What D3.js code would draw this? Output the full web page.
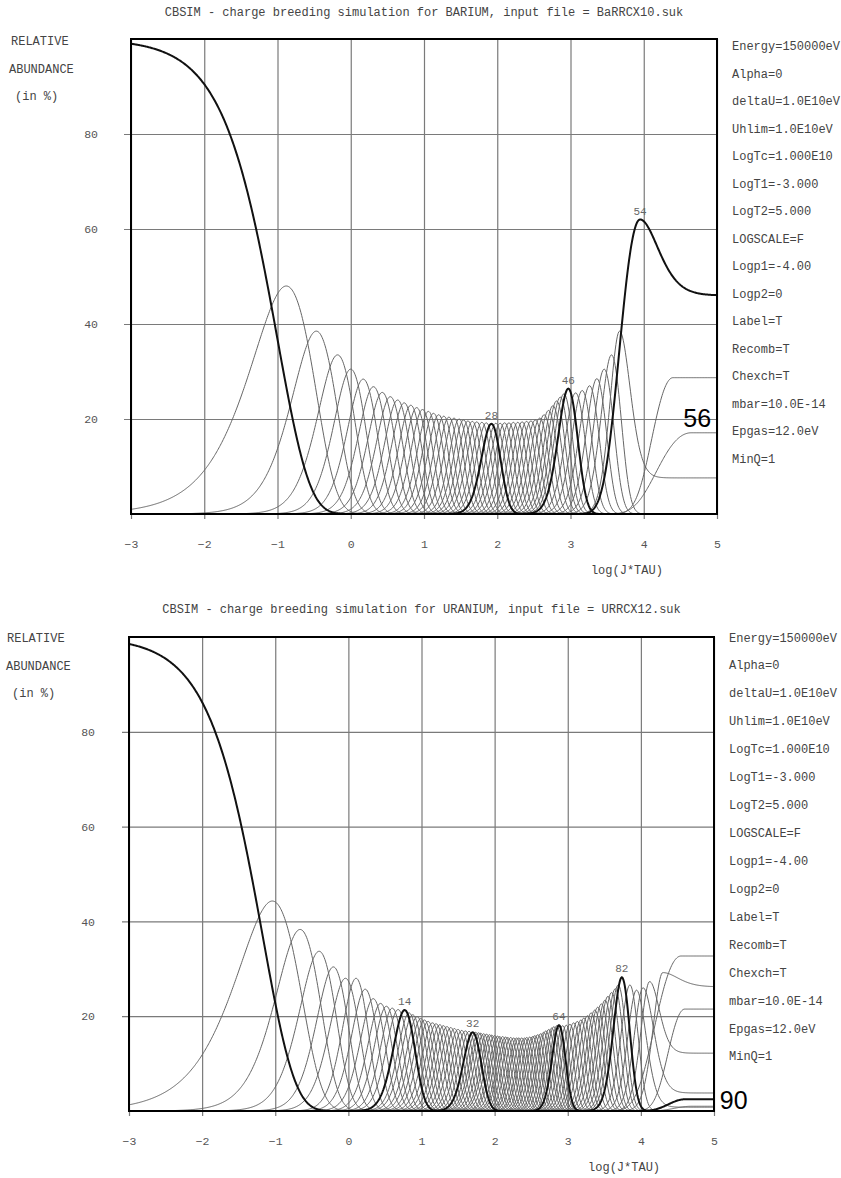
<!DOCTYPE html>
<html>
<head>
<meta charset="utf-8">
<script src="https://cdn.jsdelivr.net/npm/d3@7"></script>
<style>
body { margin: 0; background: #fff; }
svg { display: block; }
text { font-family: "Liberation Mono", "DejaVu Sans Mono", monospace; fill: #555; }
</style>
</head>
<body>
<svg id="chart" width="841" height="1178"></svg>
<script>

//=====================DATA=====================

const xTicks = [-3, -2, -1, 0, 1, 2, 3, 4, 5]
const yTicks = [20, 40, 60, 80]
const leftLabels = ['RELATIVE', 'ABUNDANCE', '(in %)']
const settings = ['Energy=150000eV', 'Alpha=0', 'deltaU=1.0E10eV', 'Uhlim=1.0E10eV', 'LogTc=1.000E10',
	'LogT1=-3.000', 'LogT2=5.000', 'LOGSCALE=F', 'Logp1=-4.00', 'Logp2=0', 'Label=T', 'Recomb=T',
	'Chexch=T', 'mbar=10.0E-14', 'Epgas=12.0eV', 'MinQ=1']

// BARIUM: charge state 1 (log time where it has fallen to 1/e)
const baQ1 = -1.0
// charge states 2..52: peak position (log J*TAU), peak abundance (%), width parameter
const baPeakX = [-0.88,-0.47,-0.18,0.00,0.17,0.31,0.43,0.54,0.64,0.73,0.82,0.90,0.98,1.06,1.13,1.20,1.27,1.34,1.41,1.48,
	1.54,1.60,1.66,1.72,1.79,1.85,1.92,1.98,2.04,2.10,2.16,2.22,2.28,2.34,2.40,2.46,2.52,2.58,2.64,2.70,
	2.76,2.81,2.86,2.91,2.97,3.07,3.16,3.26,3.36,3.46,3.56]
const baPeakH = [48,38.5,33.5,30.5,28.4,26.8,25.6,24.7,24.0,23.4,22.9,22.4,22.0,21.6,21.2,20.9,20.6,20.4,20.2,20.0,
	19.8,19.6,19.5,19.4,19.3,19.2,19.0,19.1,19.1,19.2,19.2,19.3,19.3,19.4,19.5,19.6,19.8,20.2,20.9,21.8,
	22.8,23.8,24.6,25.3,26.4,25.5,26.0,27.0,28.5,30.5,33.5]
const baPeakK = [1,2,3,4,4.5,5,5.5,6,6.5,7,7.5,8,8.5,9,9,9.5,10,10,10.5,11,
	11,11,11,11,11,11,11,11.5,11.5,11.5,12,12,12,12,12,12,12,12,12,12,
	12,12,12,11.5,10.5,10,10,10,10,10,10]
// last charge states, ending on an equilibrium plateau p
const baEnd = [
	{q: 53, x: 3.67, h: 38.5, kl: 12, tl: 'g', kr: 10, tr: 'm', p: 7.6},
	{q: 54, x: 3.95, h: 62.0, kl: 2.2, tl: 'm', kr: 3.6, tr: 'm', p: 46},
	{q: 55, x: 4.40, h: 28.7, kl: 2.1, tl: 'm', p: 28.7},
	{q: 56, x: 4.65, h: 17.1, kl: 0.72, tl: 'm', p: 17.1}
]
const baBold = [1, 28, 46, 54]
const baLabels = [28, 46, 54]

// URANIUM
const uQ1 = -1.17
// charge states 2..83
const uPeakX = [-1.04,-0.66,-0.40,-0.205,-0.04,0.105,0.23,0.34,0.44,0.52,0.60,0.68,0.77,
	0.83,0.88,0.94,0.99,1.04,1.09,1.15,1.20,1.25,1.30,1.35,1.40,1.45,1.50,1.55,1.60,1.65,
	1.70,
	1.74,1.78,1.81,1.85,1.89,1.93,1.96,2.00,2.04,2.07,2.11,2.15,2.18,2.22,2.26,2.30,2.33,2.37,2.41,2.44,
	2.48,2.52,2.55,2.59,2.63,2.67,2.70,2.74,2.78,2.81,2.85,
	2.88,
	2.93,2.98,3.03,3.08,3.13,3.18,3.22,3.27,3.32,3.37,3.41,3.46,3.51,3.55,3.60,3.65,3.69,
	3.74,
	3.85]
const uPeakH = [44.3,38.3,33.7,30.4,28.0,28.0,25.7,23.7,22.7,22.1,21.7,21.4,21.3,
	20.7,20.3,19.9,19.5,19.2,18.9,18.6,18.4,18.2,18.0,17.8,17.6,17.4,17.2,17.0,16.9,16.8,
	16.6,
	16.6,16.5,16.4,16.3,16.2,16.1,16.0,15.9,15.8,15.7,15.7,15.6,15.5,15.5,15.4,15.4,15.4,15.4,15.4,15.5,
	15.6,15.7,15.9,16.1,16.3,16.6,16.9,17.2,17.5,17.8,18.0,
	18.1,
	18.0,18.1,18.3,18.6,18.9,19.2,19.6,20.1,20.7,21.3,21.9,22.6,23.4,24.2,25.0,25.8,26.6,
	28.2,
	26.6]
const uPeakK = [1,2,3,4,4.5,6,6,6.5,7,7.5,8,8,8.5,
	9,9,9.5,9.5,10,10,10,10.5,10.5,11,11,11,11.5,11.5,12,12,12.5,
	12.5,
	13,13,13,13.5,13.5,14,14,14,14.5,14.5,15,15,15,15.5,15.5,16,16,16,16.5,16.5,
	17,17,17.5,17.5,18,18,18.5,19,19.5,20,21,
	22,
	20,19,18,17,16.5,16,16,15.5,15.5,15,15,15,15,15,15,15,15,
	15,
	14]
const uEnd = [
	{q: 84, x: 3.94, h: 25.5, kl: 14, tl: 'g', kr: 12, tr: 'm', p: 0.8},
	{q: 85, x: 4.03, h: 26.0, kl: 14, tl: 'g', kr: 10, tr: 'm', p: 3.8},
	{q: 86, x: 4.12, h: 27.3, kl: 14, tl: 'g', kr: 12, tr: 'm', p: 12.2},
	{q: 87, x: 4.30, h: 29.2, kl: 12, tl: 'g', kr: 5, tr: 'm', p: 26.2},
	{q: 88, x: 4.55, h: 32.7, kl: 1.3, tl: 'm', p: 32.7},
	{q: 89, x: 4.60, h: 21.5, kl: 3.4, tl: 'm', p: 21.5},
	{q: 90, x: 4.62, h: 2.5, kl: 3, tl: 'm', p: 2.5},
	{q: 91, x: 4.70, h: 1.0, kl: 3, tl: 'm', p: 1.0}
]
const uBold = [1, 14, 32, 64, 82, 90]
const uLabels = [14, 32, 64, 82]

//=====================STRUCTURE=====================

const panels = [
	{
		title: 'CBSIM - charge breeding simulation for BARIUM, input file = BaRRCX10.suk',
		left: 131, right: 717, top: 39, bottom: 514,
		titleY: 16, leftX: [11, 9, 15], leftY: [45, 73, 100],
		setX: 732, setY: 50, setStep: 27.5, tickPad: 26,
		q1: baQ1, px: baPeakX, ph: baPeakH, pk: baPeakK, ends: baEnd,
		bold: baBold, labels: baLabels,
		big: {text: '56', x: 4.54, y: 18.3}
	},
	{
		title: 'CBSIM - charge breeding simulation for URANIUM, input file = URRCX12.suk',
		left: 129, right: 714, top: 637, bottom: 1111,
		titleY: 613, leftX: [7, 6, 12], leftY: [642, 670, 697],
		setX: 729, setY: 641.5, setStep: 27.93, tickPad: 27,
		q1: uQ1, px: uPeakX, ph: uPeakH, pk: uPeakK, ends: uEnd,
		bold: uBold, labels: uLabels,
		big: {text: '90', x: 5.08, y: 0.4}
	}
]

const svg = d3.select('#chart')

const side = (v, k, t) => t === 'm'
	? Math.exp(k * (-v + 1 - Math.exp(-v)))
	: Math.exp(k * (v + 1 - Math.exp(v)))

const curveValue = (c, x) => {
	if (c.decay !== undefined) return 100 * Math.exp(-Math.pow(10, x - c.decay))
	const v = (x - c.x) * Math.LN10
	if (x <= c.x) return c.h * side(v, c.kl, c.tl)
	if (c.p === c.h) return c.h
	return c.p + (c.h - c.p) * side(v, c.kr, c.tr)
}

const samples = d3.range(-3, 5.0001, 0.01)

const drawPanel = (cfg, i) => {

	const x = d3.scaleLinear().domain([-3, 5]).range([cfg.left, cfg.right])
	const y = d3.scaleLinear().domain([0, 100]).range([cfg.bottom, cfg.top])
	const w = cfg.right - cfg.left
	const h = cfg.bottom - cfg.top

	const g = svg.append('g').attr('class', 'panel')

	// title and side texts
	g.append('text')
	.attr('x', (cfg.left + cfg.right) / 2)
	.attr('y', cfg.titleY)
	.attr('text-anchor', 'middle')
	.style('font-size', '12px')
	.style('fill', '#444')
	.text(cfg.title)

	g.selectAll('.ylab')
	.data(leftLabels)
	.enter()
	.append('text')
	.attr('x', (d, j) => cfg.leftX[j])
	.attr('y', (d, j) => cfg.leftY[j])
	.style('font-size', '12px')
	.style('fill', '#444')
	.text(d => d)

	g.selectAll('.setting')
	.data(settings)
	.enter()
	.append('text')
	.attr('x', cfg.setX)
	.attr('y', (d, j) => cfg.setY + j * cfg.setStep)
	.style('font-size', '12px')
	.style('fill', '#444')
	.text(d => d)

	// grid via axes
	const yAxis = g.append('g')
	.attr('transform', `translate(${cfg.left - 7},0)`)
	.call(d3.axisLeft(y).tickValues(yTicks).tickSize(-(w + 7)).tickPadding(cfg.tickPad))

	const xAxis = g.append('g')
	.attr('transform', `translate(0,${cfg.bottom + 5})`)
	.call(d3.axisBottom(x).tickValues(xTicks).tickSize(-(h + 5)).tickPadding(21))

	;[yAxis, xAxis].forEach(a => {
		a.select('.domain').remove()
		a.selectAll('line').attr('stroke', '#7a7a7a').attr('stroke-width', 1.2)
		a.selectAll('text')
		.style('font-family', '"Liberation Mono", monospace')
		.style('font-size', '11.5px')
		.style('fill', '#555')
	})

	g.append('text')
	.attr('x', x(3.77))
	.attr('y', cfg.bottom + 60)
	.attr('text-anchor', 'middle')
	.style('font-size', '12px')
	.style('fill', '#444')
	.text('log(J*TAU)')

	// curves
	const curves = [{q: 1, decay: cfg.q1}]
	cfg.px.forEach((px, j) => {
		curves.push({q: j + 2, x: px, h: cfg.ph[j], kl: cfg.pk[j], kr: cfg.pk[j], tl: 'g', tr: 'g', p: 0})
	})
	cfg.ends.forEach(e => curves.push(e))

	const clipId = 'clip' + i
	g.append('clipPath').attr('id', clipId)
	.append('rect')
	.attr('x', cfg.left).attr('y', cfg.top - 2)
	.attr('width', w).attr('height', h + 2)

	const line = d3.line()
	.x(d => x(d[0]))
	.y(d => y(d[1]))

	const plot = g.append('g').attr('clip-path', `url(#${clipId})`)

	const thin = curves.filter(c => !cfg.bold.includes(c.q))
	const bold = curves.filter(c => cfg.bold.includes(c.q))

	plot.selectAll('.thin')
	.data(thin)
	.enter()
	.append('path')
	.attr('class', 'thin')
	.attr('d', c => line(samples.map(s => [s, curveValue(c, s)])))
	.attr('fill', 'none')
	.attr('stroke', '#666')
	.attr('stroke-width', 1)

	plot.selectAll('.bold')
	.data(bold)
	.enter()
	.append('path')
	.attr('class', 'bold')
	.attr('d', c => line(samples.map(s => [s, curveValue(c, s)])))
	.attr('fill', 'none')
	.attr('stroke', '#111')
	.attr('stroke-width', 2)

	// peak labels
	g.selectAll('.plabel')
	.data(curves.filter(c => cfg.labels.includes(c.q)))
	.enter()
	.append('text')
	.attr('x', c => x(c.x))
	.attr('y', c => y(c.h) - 5)
	.attr('text-anchor', 'middle')
	.style('font-size', '11px')
	.style('fill', '#666')
	.text(c => c.q)

	// frame
	g.append('rect')
	.attr('x', cfg.left).attr('y', cfg.top)
	.attr('width', w).attr('height', h)
	.attr('fill', 'none')
	.attr('stroke', '#000')
	.attr('stroke-width', 2)

	// big annotation
	g.append('text')
	.attr('x', x(cfg.big.x))
	.attr('y', y(cfg.big.y))
	.style('font-family', '"Liberation Sans", Arial, sans-serif')
	.style('font-size', '25px')
	.style('fill', '#000')
	.text(cfg.big.text)
}

panels.forEach(drawPanel)

</script>
</body>
</html>
